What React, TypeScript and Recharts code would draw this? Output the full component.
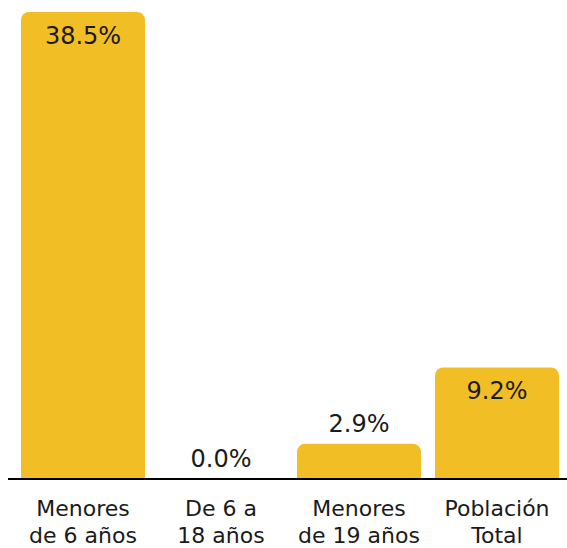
import React from "react";
import { ComposedChart, Bar, Line, XAxis, YAxis, LabelList } from "recharts";

if (typeof document !== "undefined") document.body.style.margin = "0";

const categories = ["Menores\nde 6 años", "De 6 a\n18 años", "Menores\nde 19 años", "Población\nTotal"];
const values = [38.5, 0.0, 2.9, 9.2];

const data = categories.map((label, i) => ({ label, value: values[i] }));

const FONT = "'DejaVu Sans', sans-serif";
const BAR_COLOR = "#F2BE26";

const CategoryTick = (props: any) => {
  const { x, y, payload } = props;
  const lines = String(payload.value).split("\n");
  return (
    <text x={x} y={y} textAnchor="middle" fill="#1a1a1a" fontFamily={FONT} fontSize={22}>
      {lines.map((ln, i) => (
        <tspan key={i} x={x} y={y + 29 + i * 27}>
          {ln}
        </tspan>
      ))}
    </text>
  );
};

// labels come from an invisible line so the zero bar still gets one
const ValueLabel = (props: any) => {
  const { x, y, value } = props;
  const inside = value > 5;
  return (
    <text
      x={x}
      y={inside ? y + 32 : y - 12}
      textAnchor="middle"
      fill="#1a1a1a"
      fontFamily={FONT}
      fontSize={24}
    >
      {Number(value).toFixed(1)}%
    </text>
  );
};

export default function App() {
  return (
    <ComposedChart
      width={567}
      height={548}
      data={data}
      margin={{ top: 12, right: 0, bottom: 0, left: 8 }}
    >
      <XAxis
        dataKey="label"
        height={69}
        padding={{ left: 6, right: 1 }}
        axisLine={{ stroke: "#000", strokeWidth: 2 }}
        tickLine={false}
        interval={0}
        tick={<CategoryTick />}
      />
      <YAxis hide domain={[0, 38.5]} />
      <Bar dataKey="value" fill={BAR_COLOR} barSize={124} radius={[8, 8, 0, 0]} isAnimationActive={false} />
      <Line
        dataKey="value"
        stroke="none"
        dot={false}
        activeDot={false}
        legendType="none"
        isAnimationActive={false}
      >
        <LabelList dataKey="value" content={<ValueLabel />} />
      </Line>
    </ComposedChart>
  );
}
